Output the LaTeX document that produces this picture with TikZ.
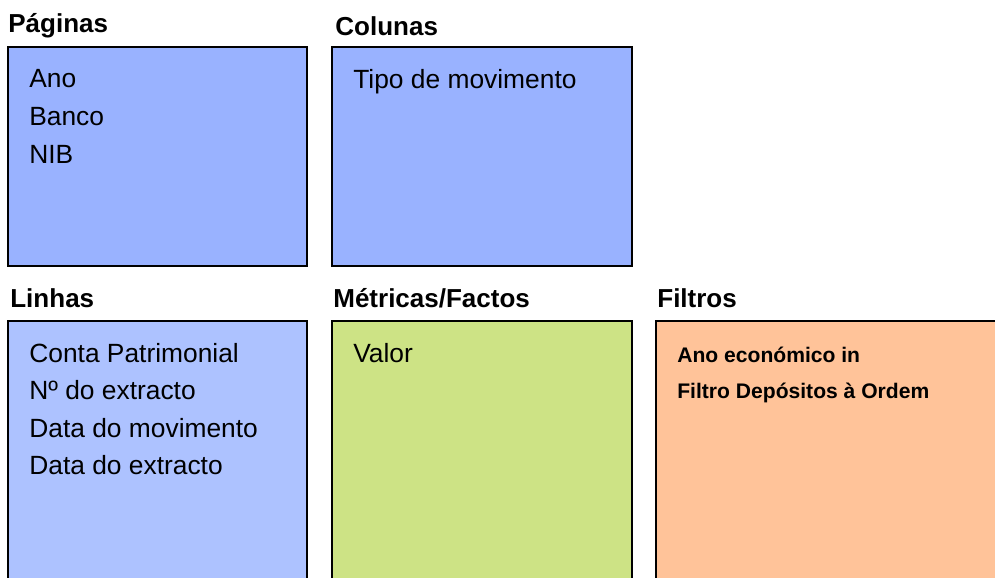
\documentclass[tikz,border=0pt]{standalone}
\usepackage{fontspec}
\setmainfont{Liberation Sans}
\usetikzlibrary{backgrounds}
\pgfdeclarelayer{edgelayer}
\pgfdeclarelayer{nodelayer}
\pgfsetlayers{edgelayer,nodelayer,main}
\definecolor{pagblue}{RGB}{153,178,255}
\definecolor{linblue}{RGB}{173,194,255}
\definecolor{metgreen}{RGB}{205,227,133}
\definecolor{filpeach}{RGB}{255,195,153}
\tikzstyle{none}=[inner sep=0pt,anchor=base west]
\tikzstyle{head}=[none,font=\fontsize{14.8}{17}\selectfont\bfseries]
\tikzstyle{item}=[none,font=\fontsize{15}{18}\selectfont]
\tikzstyle{filtitem}=[none,font=\fontsize{12}{14}\selectfont\bfseries]
\tikzstyle{panel}=[draw=black,line width=1pt]

\begin{document}
\begin{tikzpicture}
	\clip (0, 0) rectangle (19.9, -11.54);
	\begin{pgfonlayer}{edgelayer}
		\filldraw[style=panel,fill=pagblue] (0.16, -0.94) rectangle (6.14, -5.32);
		\filldraw[style=panel,fill=pagblue] (6.64, -0.94) rectangle (12.64, -5.32);
		\filldraw[style=panel,fill=linblue] (0.16, -6.42) rectangle (6.14, -11.8);
		\filldraw[style=panel,fill=metgreen] (6.64, -6.42) rectangle (12.64, -11.8);
		\filldraw[style=panel,fill=filpeach] (13.12, -6.42) rectangle (20.2, -11.8);
	\end{pgfonlayer}
	\begin{pgfonlayer}{nodelayer}
		\node [style=head] (0) at (0.16, -0.64) {Páginas};
		\node [style=head] (1) at (6.70, -0.70) {Colunas};
		\node [style=head] (2) at (0.20, -6.14) {Linhas};
		\node [style=head] (3) at (6.66, -6.14) {Métricas/Factos};
		\node [style=head] (4) at (13.14, -6.14) {Filtros};
		\node [style=item] (5) at (0.58, -1.74) {Ano};
		\node [style=item] (6) at (0.58, -2.50) {Banco};
		\node [style=item] (7) at (0.58, -3.26) {NIB};
		\node [style=item] (8) at (7.06, -1.76) {Tipo de movimento};
		\node [style=item] (9) at (0.58, -7.24) {Conta Patrimonial};
		\node [style=item] (10) at (0.58, -7.98) {Nº do extracto};
		\node [style=item] (11) at (0.58, -8.74) {Data do movimento};
		\node [style=item] (12) at (0.58, -9.48) {Data do extracto};
		\node [style=item] (13) at (7.06, -7.24) {Valor};
		\node [style=filtitem] (14) at (13.54, -7.24) {Ano económico in};
		\node [style=filtitem] (15) at (13.54, -7.96) {Filtro Depósitos à Ordem};
	\end{pgfonlayer}
\end{tikzpicture}
\end{document}
